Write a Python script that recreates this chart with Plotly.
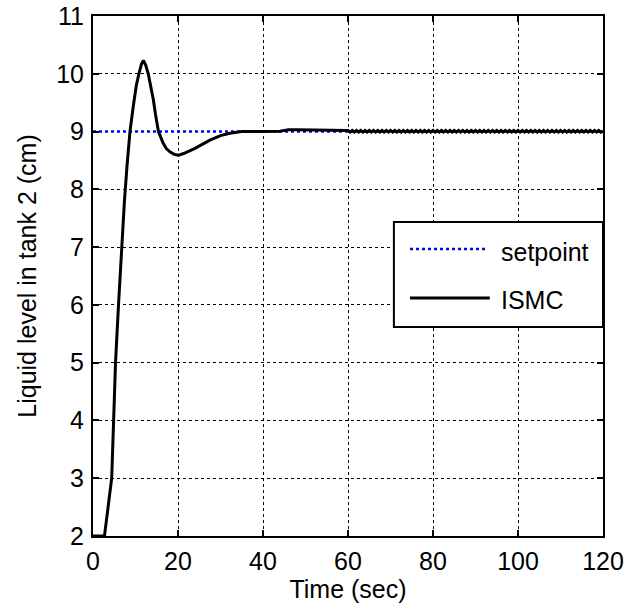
import plotly.graph_objects as go

# ISMC response
t_ismc = [0, 2.7, 4.4, 4.8, 5.3, 6.0, 6.75, 7.4, 8.0, 8.7, 9.5, 10.2, 10.8, 11.4, 11.85,
          12.4, 13.0, 13.6, 14.2, 14.7, 15.4, 16.5, 17.3, 18.1, 19.0, 19.7, 20.5, 21.3,
          24, 27.5, 30, 32.2, 35, 40, 44, 45, 46, 48, 50, 52, 54, 56, 58, 60]
y_ismc = [2, 2, 3, 4, 5, 6, 7, 7.8, 8.4, 9, 9.45, 9.8, 10.0, 10.17, 10.23,
          10.15, 10.0, 9.78, 9.55, 9.3, 9.0, 8.8, 8.7, 8.65, 8.61, 8.595, 8.6, 8.62,
          8.71, 8.85, 8.93, 8.97, 9.0, 9.0, 9.005, 9.02, 9.03, 9.03, 9.03, 9.03, 9.03, 9.03, 9.03, 9.02]

# ripple segment 60..120 s (half-second samples)
t_ripple = [60.5 + 0.5 * i for i in range(120)]
y_ripple = [
    8.99, 9.02, 8.99, 9.02, 8.99, 9.02, 8.99, 9.02, 8.99, 9.02,
    8.99, 9.02, 8.99, 9.02, 8.99, 9.02, 8.99, 9.02, 8.99, 9.02,
    8.99, 9.02, 8.99, 9.02, 8.99, 9.02, 8.99, 9.02, 8.99, 9.02,
    8.99, 9.02, 8.99, 9.02, 8.99, 9.02, 8.99, 9.02, 8.99, 9.02,
    8.99, 9.02, 8.99, 9.02, 8.99, 9.02, 8.99, 9.02, 8.99, 9.02,
    8.99, 9.02, 8.99, 9.02, 8.99, 9.02, 8.99, 9.02, 8.99, 9.02,
    8.99, 9.02, 8.99, 9.02, 8.99, 9.02, 8.99, 9.02, 8.99, 9.02,
    8.99, 9.02, 8.99, 9.02, 8.99, 9.02, 8.99, 9.02, 8.99, 9.02,
    8.99, 9.02, 8.99, 9.02, 8.99, 9.02, 8.99, 9.02, 8.99, 9.02,
    8.99, 9.02, 8.99, 9.02, 8.99, 9.02, 8.99, 9.02, 8.99, 9.02,
    8.99, 9.02, 8.99, 9.02, 8.99, 9.02, 8.99, 9.02, 8.99, 9.02,
    8.99, 9.02, 8.99, 9.02, 8.99, 9.02, 8.99, 9.02, 8.99, 9.01,
]

t_set = [0, 120]
y_set = [9, 9]

x_ticks = [0, 20, 40, 60, 80, 100, 120]
y_ticks = [2, 3, 4, 5, 6, 7, 8, 9, 10, 11]
legend_names = ["setpoint", "ISMC"]

FONT = "Liberation Sans, Arial, sans-serif"
FS = 25
SET_COLOR = "#0000ff"

fig = go.Figure()
fig.add_trace(go.Scatter(x=t_set, y=y_set, mode="lines", name=legend_names[0],
                         line=dict(color=SET_COLOR, width=2.5, dash="dot")))
fig.add_trace(go.Scatter(x=t_ismc + t_ripple, y=y_ismc + y_ripple, mode="lines",
                         name=legend_names[1],
                         line=dict(color="black", width=3)))

axis_common = dict(
    showline=True, linecolor="black", linewidth=2, mirror="ticks",
    ticks="inside", ticklen=6, tickwidth=1.5, tickcolor="black",
    showgrid=True, gridcolor="black", gridwidth=1, griddash="dot",
    zeroline=False, automargin=False,
    tickfont=dict(family=FONT, size=FS, color="black"),
)

# legend box (MATLAB style) drawn in paper coordinates
shapes = [
    dict(type="rect", xref="paper", yref="paper", x0=0.590, x1=1.0, y0=0.402, y1=0.604,
         fillcolor="white", line=dict(color="black", width=2), layer="above"),
    dict(type="line", xref="paper", yref="paper", x0=0.6216, x1=0.7706, y0=0.552, y1=0.552,
         line=dict(color=SET_COLOR, width=2.5, dash="dot"), layer="above"),
    dict(type="line", xref="paper", yref="paper", x0=0.6216, x1=0.778, y0=0.4577, y1=0.4577,
         line=dict(color="black", width=3), layer="above"),
]
annotations = [
    dict(xref="paper", yref="paper", x=0.796, y=0.546, text=legend_names[0], showarrow=False,
         xanchor="left", yanchor="middle", font=dict(family=FONT, size=FS, color="black")),
    dict(xref="paper", yref="paper", x=0.796, y=0.454, text=legend_names[1], showarrow=False,
         xanchor="left", yanchor="middle", font=dict(family=FONT, size=FS, color="black")),
]

fig.update_layout(
    width=640, height=607,
    margin=dict(l=93, r=37, t=16, b=71, autoexpand=False),
    paper_bgcolor="white", plot_bgcolor="white",
    font=dict(family=FONT, size=FS, color="black"),
    xaxis=dict(range=[0, 120], tickvals=x_ticks, ticktext=[str(v) for v in x_ticks],
               ticklabelstandoff=2,
               title=dict(text="Time (sec)", font=dict(family=FONT, size=FS), standoff=0),
               **axis_common),
    yaxis=dict(range=[2, 11], tickvals=y_ticks, ticktext=[str(v) for v in y_ticks],
               ticklabelstandoff=2,
               title=dict(text="Liquid level in tank 2 (cm)", font=dict(family=FONT, size=FS), standoff=12),
               **axis_common),
    shapes=shapes,
    annotations=annotations,
    showlegend=False,
)

fig.write_html("out.html", config={"displayModeBar": False},
               post_script="document.body.style.margin='0px';document.body.style.padding='0px';")
